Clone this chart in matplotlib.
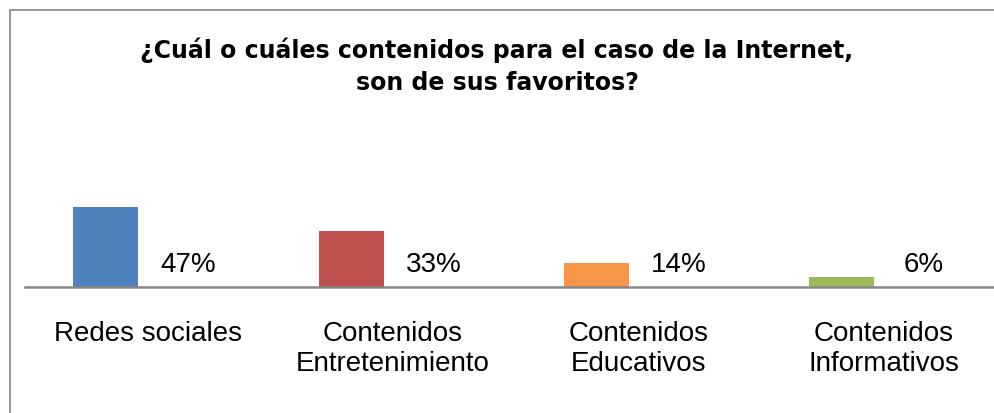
import matplotlib
matplotlib.use("Agg")
import matplotlib.pyplot as plt
from matplotlib.patches import Rectangle

plt.rcParams['font.family'] = ['Liberation Sans', 'DejaVu Sans']

categories = ["Redes sociales", "Contenidos\nEntretenimiento",
              "Contenidos\nEducativos", "Contenidos\nInformativos"]
values = [47, 33, 14, 6]
labels = ["47%", "33%", "14%", "6%"]
colors = ["#4f81bd", "#c0504d", "#f79646", "#9bbb59"]
title = "¿Cuál o cuáles contenidos para el caso de la Internet,\nson de sus favoritos?"

W, H = 994, 414
fig = plt.figure(figsize=(W / 100, H / 100), dpi=100)

# outer frame
fig.patches.append(Rectangle((10 / W, -0.1), 1.1, (H - 11) / H + 0.1,
                             transform=fig.transFigure, fill=False,
                             edgecolor="#888888", linewidth=1.2))

# axes: baseline at y=288px, from x=25px, 245.3px per category
ax = fig.add_axes([25 / W, (H - 288) / H, 4 * 245.3 / W, 170 / H])
ax.set_xlim(-0.5, 3.5)
ax.set_ylim(0, 100)

x = range(len(values))
ax.bar([i - 0.17 for i in x], values, width=0.265, color=colors)
for i, lab in zip(x, labels):
    ax.annotate(lab, (i + 0.165, 0), xytext=(0, 11.5), textcoords="offset points",
                ha="center", va="baseline", fontsize=20)

for s in ["top", "right", "left"]:
    ax.spines[s].set_visible(False)
ax.spines["bottom"].set_color("#868686")
ax.spines["bottom"].set_linewidth(1.8)
ax.set_yticks([])
ax.set_xticks(list(x))
ax.set_xticklabels(categories, fontsize=20, linespacing=1.2)
ax.tick_params(axis="x", length=0, pad=24)

fig.text(0.5, (H - 90) / H, title, ha="center", va="baseline",
         fontsize=17, fontweight="bold", family="DejaVu Sans", linespacing=1.4)

fig.savefig("out.png", dpi=100)
